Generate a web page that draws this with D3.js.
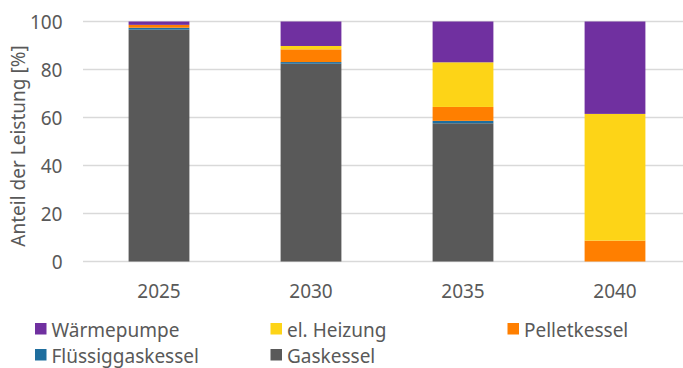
<!DOCTYPE html>
<html>
<head>
<meta charset="utf-8">
<script src="https://cdn.jsdelivr.net/npm/d3@7"></script>
<style>
  html, body { margin: 0; padding: 0; background: #fff; }
  svg { display: block; }
  text { font-family: "Noto Sans", "Open Sans", sans-serif; fill: #595959; }
</style>
</head>
<body>
<svg id="chart" width="683" height="368"></svg>
<script>
// Jahre (Kategorien)
const years = ["2025", "2030", "2035", "2040"];

// Anteile je Technologie in %
const gaskessel        = [96.6, 82.4, 57.6, 0];
const fluessiggaskessel = [0.8, 0.7, 1.0, 0];
const pelletkessel     = [1.2, 5.3, 5.8, 8.7];
const elHeizung        = [0, 1.4, 18.6, 52.8];
const waermepumpe      = [1.4, 10.2, 17.0, 38.5];

const yTicks = [0, 20, 40, 60, 80, 100];

// Stapelreihenfolge von unten nach oben
const series = [
  { key: "Gaskessel", values: gaskessel, color: "#595959" },
  { key: "Flüssiggaskessel", values: fluessiggaskessel, color: "#1F6E9E" },
  { key: "Pelletkessel", values: pelletkessel, color: "#FF7F00" },
  { key: "el. Heizung", values: elHeizung, color: "#FDD417" },
  { key: "Wärmepumpe", values: waermepumpe, color: "#7030A0" }
];

const rows = years.map((y, i) => {
  const r = { year: y };
  series.forEach(s => { r[s.key] = s.values[i]; });
  return r;
});

const svg = d3.select("#chart");
const plotLeft = 83, plotRight = 691, plotTop = 21.5, plotBottom = 261.5;

const x = d3.scaleBand().domain(years).range([plotLeft, plotRight]).paddingInner(0.6).paddingOuter(0.3);
const y = d3.scaleLinear().domain([0, 100]).range([plotBottom, plotTop]);

// Gitterlinien
svg.append("g").selectAll("line").data(yTicks).join("line")
  .attr("x1", plotLeft).attr("x2", 683)
  .attr("y1", d => y(d)).attr("y2", d => y(d))
  .attr("stroke", "#d9d9d9").attr("stroke-width", 1.5);

// Y-Achse (Beschriftung)
const yAxis = svg.append("g").attr("transform", `translate(62.5,0)`)
  .call(d3.axisLeft(y).tickValues(yTicks).tickSize(0).tickPadding(0));
yAxis.select(".domain").remove();
yAxis.selectAll("text").style("font-size", "19px").attr("fill", "#595959").attr("dy", "0.36em");

// Gestapelte Balken
const stack = d3.stack().keys(series.map(s => s.key));
const stacked = stack(rows);
svg.append("g").selectAll("g").data(stacked).join("g")
  .attr("fill", (d, i) => series[i].color)
  .selectAll("rect").data(d => d).join("rect")
  .attr("x", d => x(d.data.year))
  .attr("width", x.bandwidth())
  .attr("y", d => y(d[1]))
  .attr("height", d => Math.max(0, y(d[0]) - y(d[1])));

// X-Achse
const xAxis = svg.append("g").attr("transform", `translate(0,${plotBottom})`)
  .call(d3.axisBottom(x).tickSize(0));
xAxis.select(".domain").remove();
xAxis.selectAll("text").style("font-size", "19px").attr("fill", "#595959")
  .attr("y", 36.8).attr("dy", null);

// Achsentitel
svg.append("text")
  .attr("transform", "translate(25,146) rotate(-90)")
  .attr("text-anchor", "middle")
  .style("font-size", "19px")
  .text("Anteil der Leistung [%]");

// Legende in zwei Zeilen
const legendItems = [
  { key: "Wärmepumpe", x: 35, y: 336.5 },
  { key: "el. Heizung", x: 270.5, y: 336.5 },
  { key: "Pelletkessel", x: 507.5, y: 336.5 },
  { key: "Flüssiggaskessel", x: 35, y: 362.5 },
  { key: "Gaskessel", x: 270.5, y: 362.5 }
];
const lg = svg.append("g").selectAll("g").data(legendItems).join("g")
  .attr("transform", d => `translate(${d.x},${d.y})`);
lg.append("rect").attr("x", 0).attr("y", -13.5).attr("width", 11.5).attr("height", 11.5)
  .attr("fill", d => series.find(s => s.key === d.key).color);
lg.append("text").attr("x", 16.5).attr("y", 0)
  .style("font-size", "19px").text(d => d.key);
</script>
</body>
</html>
